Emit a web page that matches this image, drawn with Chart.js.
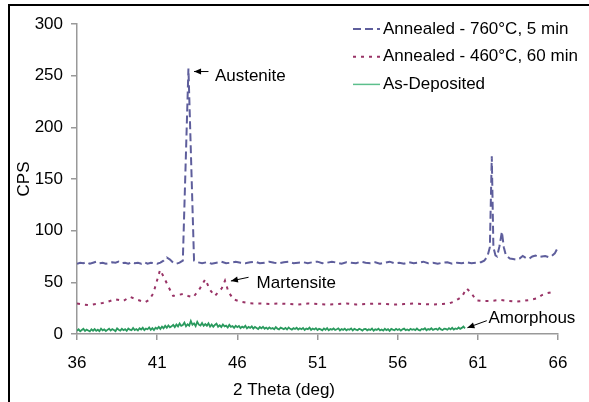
<!DOCTYPE html>
<html><head><meta charset="utf-8">
<script src="https://cdn.jsdelivr.net/npm/chart.js@4/dist/chart.umd.min.js"></script>
<style>html,body{margin:0;padding:0;background:#fff;}#wrap{width:589px;height:402px;position:relative;}</style>
</head><body><div id="wrap"><canvas id="c" width="589" height="402"></canvas></div>
<script>
const seriesLabels = ['Annealed - 760°C, 5 min', 'Annealed - 460°C, 60 min', 'As-Deposited'];

const theta760 = [
36,36.2,36.4,36.6,36.8,37,37.2,37.4,37.6,37.8,
38,38.2,38.4,38.6,38.8,39,39.2,39.4,39.6,39.8,
40,40.2,40.4,40.6,40.8,41,41.2,41.4,41.6,41.8,
42,42.2,42.4,42.6,42.95,43.3,43.5,43.8,44.1,44.4,
44.7,45,45.3,45.6,45.9,46.2,46.5,46.8,47.1,47.4,
47.7,48,48.3,48.6,48.9,49.2,49.5,49.8,50.1,50.4,
50.7,51,51.3,51.6,51.9,52.2,52.5,52.8,53.1,53.4,
53.7,54,54.3,54.6,54.9,55.2,55.5,55.8,56.1,56.4,
56.7,57,57.3,57.6,57.9,58.2,58.5,58.8,59.1,59.4,
59.7,60,60.3,60.6,60.9,61.2,61.4,61.6,61.75,61.87,
61.97,62.1,62.2,62.35,62.5,62.62,62.75,63,63.2,63.4,
63.6,63.8,64,64.2,64.4,64.6,64.8,65,65.2,65.4,
65.6,65.8,66];
const cps760 = [
68,69,68.5,69.5,68,69,70,68.5,69,68,
68.5,69.5,69,70,68.5,69,68,69.5,68.5,69,
68,69.5,68,69,68.5,68,69,71,74,72,
69,68,69,71,257,71,69.5,68.5,69.5,68,
69,70,68.5,69,70,69,68.5,69.5,70,68.5,
69,70,69,68.5,69.5,70,68.5,69,69.5,68.5,
69.5,70,68.5,69,70,69,68,69.5,69,68.5,
70,69,68.5,69.5,68,69,70,68.5,69,68,
69.5,68.5,69,70,68.5,69,68,69,69.5,68,
69,68.5,69.5,68.5,69,69.5,71,75,84,172,
84,76,75,85,99,84,76,73,72.5,72,
73,75.5,73.5,73,75,76,74.5,75,75.5,74.5,
75.5,78,84];

const theta460 = [
36,36.4,36.8,37.2,37.6,37.95,38.37,38.9,39.3,39.8,
40.24,40.5,40.76,40.97,41.18,41.4,41.7,42,42.3,42.63,
42.94,43.25,43.67,44,44.3,44.6,45.03,45.23,45.44,45.75,
46.17,46.8,47.4,48,48.6,49.2,49.8,50.4,51,51.6,
52.2,52.8,53.4,54,54.6,55.2,55.8,56.4,57,57.6,
58.2,58.8,59.2,59.5,59.8,60,60.3,60.6,60.9,61.3,
61.8,62.4,62.9,63.4,63.8,64.26,64.7,65,65.3,65.6,
65.8];
const cps460 = [
29.5,28.5,28,29,30,31.3,33.6,32,36,33,
30.7,33,39.4,50.6,62,55.5,45.8,36.8,37.8,38.7,
36.8,35.5,44.2,53,42.6,36.8,44.2,51.6,41,33.6,
31.3,29.7,29.5,29,29.5,29,28.5,29.5,29,28.5,
29,29.5,28.5,29,29.5,29,28.5,29,29.5,29,
28.5,29,29.5,31.3,34,36,44.2,39.4,32.5,32,
32,33,32,31.3,32,33,34.5,37.7,39.4,40.4,
41];

// As-Deposited scan: starts at 36 deg, one reading every 0.1 deg
const asDepStart = 36, asDepStep = 0.1;
const cpsAsDep = [
3.1,4.5,2.6,3.8,5.0,2.9,4.2,3.4,2.5,4.6,
3.2,4.8,3.0,4.1,2.7,5.2,3.6,4.4,2.9,4.0,
5.1,3.3,4.7,3.9,2.8,5.4,4.1,3.2,5.0,3.7,
4.6,3.0,5.3,4.2,3.6,5.8,3.9,4.8,3.4,5.5,
4.3,6.0,3.8,5.2,4.6,6.3,4.1,5.7,3.9,6.1,
5.0,6.8,4.9,7.2,5.6,7.9,6.1,8.3,6.5,7.4,
8.8,6.7,9.1,7.3,10.2,7.8,8.6,11.0,7.5,9.4,
8.1,12.6,8.9,10.3,7.6,11.8,9.0,8.2,10.7,7.9,
9.6,8.0,10.4,7.2,9.1,6.9,8.7,10.0,7.0,8.4,
6.8,9.2,7.4,8.1,6.3,8.8,6.9,7.7,5.9,8.0,
6.6,7.8,5.7,7.1,6.2,8.0,5.4,6.9,6.0,7.4,
5.3,6.8,5.9,4.8,6.7,5.5,7.0,5.0,6.2,4.9,
6.4,5.1,5.8,4.6,6.6,5.2,4.5,6.1,5.4,4.7,
5.9,4.4,6.3,5.0,4.2,5.7,4.8,6.0,4.3,5.5,
4.6,5.8,3.9,5.2,4.7,6.1,4.0,5.3,4.4,5.6,
3.8,5.0,4.5,3.6,5.4,4.1,5.7,3.7,4.9,4.2,
5.3,3.9,4.6,5.5,3.5,4.8,4.0,5.2,3.6,4.7,
4.1,5.4,3.4,4.9,4.2,3.7,5.1,4.4,3.3,4.8,
5.0,3.6,4.5,3.9,5.3,3.2,4.6,4.0,5.2,3.5,
4.3,3.4,5.1,3.8,4.7,3.1,4.9,4.2,3.6,5.0,
3.9,4.8,3.3,4.5,5.2,3.7,4.4,3.5,5.0,4.1,
4.6,3.8,5.3,4.0,3.5,4.9,4.3,5.5,3.7,4.8,
4.2,5.6,3.9,4.7,5.1,4.0,5.8,4.4,3.8,5.2,
4.9,4.1,5.7,4.5,6.0,4.3,5.4,4.8,6.3,5.0,
5.9,7.2,5.5];

const xTicks = [36, 41, 46, 51, 56, 61, 66];
const yTicks = [0, 50, 100, 150, 200, 250, 300];
const xTitle = '2 Theta (deg)';
const yTitle = 'CPS';

const annotationTexts = ['Austenite', 'Martensite', 'Amorphous'];

const FONT = "Arial, 'Liberation Sans', sans-serif";
Chart.defaults.font.family = FONT;
Chart.defaults.font.size = 17;
Chart.defaults.color = '#000';

const pts = (xs, ys) => xs.map((x, i) => ({x: x, y: ys[i]}));
const asDepPoints = cpsAsDep.map((v, i) => ({x: +(asDepStart + i * asDepStep).toFixed(2), y: v}));

const annotationGeom = [
  {tip: [43.3, 254], tail: [44.2, 254], label: [44.6, 249.5]},
  {tip: [45.6, 51.3], tail: [46.7, 54.9], label: [47.2, 48.6]},
  {tip: [60.35, 6.1], tail: [61.56, 12.9], label: [61.66, 15.6]}
];

const decor = {
  id: 'decor',
  afterDraw(chart) {
    const ctx = chart.ctx, xs = chart.scales.x, ys = chart.scales.y;
    ctx.save();
    ctx.fillStyle = '#000';
    ctx.fillRect(8, 4, 2, chart.height - 4);
    ctx.fillRect(8, 4, chart.width - 8, 2);
    ctx.font = '17px ' + FONT;
    ctx.textBaseline = 'middle';
    ctx.textAlign = 'left';
    chart.data.datasets.forEach((ds, i) => {
      const y = 29 + i * 27.7;
      ctx.beginPath();
      ctx.setLineDash(ds.borderDash || []);
      ctx.strokeStyle = ds.legendColor || ds.borderColor;
      ctx.lineWidth = ds.legendWidth || ds.borderWidth;
      ctx.moveTo(353, y); ctx.lineTo(380, y);
      ctx.stroke();
      ctx.setLineDash([]);
      ctx.fillStyle = '#000';
      ctx.fillText(ds.label, 383, y);
    });
    ctx.textAlign = 'center';
    ctx.fillText(xTitle, 284, 390);
    annotationGeom.forEach((a, k) => {
      const tx = xs.getPixelForValue(a.tip[0]), ty = ys.getPixelForValue(a.tip[1]);
      const fx = xs.getPixelForValue(a.tail[0]), fy = ys.getPixelForValue(a.tail[1]);
      ctx.strokeStyle = '#000'; ctx.lineWidth = 1;
      ctx.beginPath(); ctx.moveTo(fx, fy); ctx.lineTo(tx, ty); ctx.stroke();
      const ang = Math.atan2(ty - fy, tx - fx);
      const L = 7, W = 3;
      ctx.beginPath(); ctx.moveTo(tx, ty);
      ctx.lineTo(tx - L * Math.cos(ang) + W * Math.sin(ang), ty - L * Math.sin(ang) - W * Math.cos(ang));
      ctx.lineTo(tx - L * Math.cos(ang) - W * Math.sin(ang), ty - L * Math.sin(ang) + W * Math.cos(ang));
      ctx.closePath(); ctx.fillStyle = '#000'; ctx.fill();
      ctx.textAlign = 'left';
      ctx.fillText(annotationTexts[k], xs.getPixelForValue(a.label[0]), ys.getPixelForValue(a.label[1]));
    });
    ctx.restore();
  }
};

new Chart(document.getElementById('c'), {
  type: 'line',
  data: {
    datasets: [
      {label: seriesLabels[0], data: pts(theta760, cps760), borderColor: '#5e5e9c', borderWidth: 2, borderDash: [8, 4], pointRadius: 0, tension: 0, fill: false},
      {label: seriesLabels[1], data: pts(theta460, cps460), borderColor: '#993366', borderWidth: 2, borderDash: [3, 5], pointRadius: 0, tension: 0, fill: false},
      {label: seriesLabels[2], data: asDepPoints, borderColor: '#2a9a5e', legendColor: '#5cbf8c', legendWidth: 1.5, borderWidth: 1.8, pointRadius: 0, tension: 0, fill: false}
    ]
  },
  options: {
    responsive: false,
    animation: false,
    devicePixelRatio: 1,
    layout: {padding: {top: 24, right: 31, left: 0, bottom: 0}},
    plugins: {legend: {display: false}, tooltip: {enabled: false}},
    scales: {
      x: {
        type: 'linear', min: 36, max: 66,
        afterBuildTicks: s => { s.ticks = xTicks.map(v => ({value: v})); },
        afterFit: s => { s.height = 68; },
        grid: {drawOnChartArea: false, drawTicks: true, tickLength: 6, color: '#999', lineWidth: 1.5},
        border: {display: true, color: '#999', width: 1.5},
        ticks: {padding: 13, maxRotation: 0, font: {size: 17}}
      },
      y: {
        type: 'linear', min: 0, max: 300,
        afterBuildTicks: s => { s.ticks = yTicks.map(v => ({value: v})); },
        afterFit: s => { s.width = 77; },
        grid: {drawOnChartArea: false, drawTicks: true, tickLength: 6, color: '#999', lineWidth: 1.5},
        border: {display: true, color: '#999', width: 1.5},
        ticks: {padding: 8, font: {size: 17}},
        title: {display: true, text: yTitle, font: {size: 17}, padding: {top: 14, bottom: 0}}
      }
    }
  },
  plugins: [decor]
});
</script>
</body></html>
